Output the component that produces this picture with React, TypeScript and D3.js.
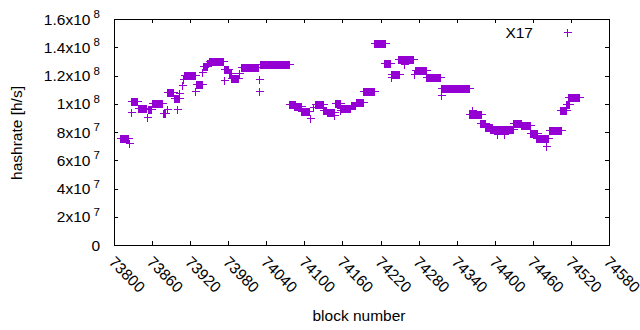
import React from "react";
import * as d3 from "d3";

// hashrate runs (one point per block, same value over the run), values in h/s
const runStart = [
  73809, 73827, 73838, 73853, 73860, 73877, 73884, 73895, 73910, 73929,
  73941, 73946, 73949, 73973, 73981, 73985, 74000, 74030, 74076, 74084,
  74095, 74117, 74129, 74135, 74148, 74156, 74174, 74181, 74193, 74210,
  74226, 74236, 74248, 74274, 74292, 74315, 74359, 74377, 74384, 74393,
  74403, 74428, 74442, 74455, 74465, 74486, 74503, 74512, 74516,
];
const runEnd = [
  73822, 73837, 73851, 73858, 73876, 73881, 73893, 73902, 73928, 73938,
  73946, 73948, 73971, 73980, 73985, 73996, 74027, 74076, 74085, 74094,
  74108, 74129, 74134, 74146, 74156, 74172, 74180, 74193, 74209, 74227,
  74235, 74249, 74271, 74291, 74314, 74359, 74378, 74385, 74395, 74403,
  74429, 74442, 74455, 74466, 74484, 74504, 74513, 74517, 74532,
];
const runValue = [
  75.5e6, 101.7e6, 97.3e6, 96.1e6, 100.5e6, 93.8e6, 108.3e6, 104.4e6, 120.7e6, 114.2e6,
  127.0e6, 129.0e6, 130.0e6, 124.6e6, 121.8e6, 118.4e6, 125.9e6, 128.0e6, 100.0e6, 98.4e6,
  94.8e6, 99.6e6, 95.6e6, 94.0e6, 100.2e6, 97.0e6, 99.0e6, 100.9e6, 109.0e6, 143.0e6,
  128.6e6, 121.0e6, 131.5e6, 123.7e6, 118.7e6, 111.0e6, 92.4e6, 86.2e6, 83.7e6, 81.9e6,
  82.3e6, 86.2e6, 84.7e6, 79.3e6, 76.1e6, 81.2e6, 95.6e6, 99.5e6, 104.6e6,
];

// single blocks off the runs
const spikeBlock = [
  73823, 73826, 73852, 73883, 73900, 73902, 73907, 73909, 73928, 73939,
  73973, 73997, 74029, 74029, 74109, 74114, 74146, 74156, 74236, 74257,
  74273, 74315, 74364, 74404, 74415, 74481,
];
const spikeValue = [
  72.0e6, 94.0e6, 90.8e6, 96.3e6, 96.1e6, 107.4e6, 113.3e6, 117.5e6, 109.2e6, 122.3e6,
  116.8e6, 122.0e6, 117.3e6, 109.0e6, 89.7e6, 97.9e6, 92.0e6, 95.6e6, 118.7e6, 128.0e6,
  121.1e6, 106.2e6, 95.6e6, 78.4e6, 78.4e6, 70.3e6,
];

const xTicks = [
  73800, 73860, 73920, 73980, 74040, 74100, 74160, 74220, 74280, 74340,
  74400, 74460, 74520, 74580,
];
const yTicks = [0, 2e7, 4e7, 6e7, 8e7, 1e8, 1.2e8, 1.4e8, 1.6e8];

const COLOR = "#9400d3";
const FONT = "'Liberation Sans', Arial, sans-serif";

const W = 640;
const H = 330;
const left = 114;
const right = 609;
const top = 19;
const bottom = 245;

function plus(cx: number, cy: number, r = 4) {
  const px = Math.round(cx) + 0.5;
  const py = Math.round(cy) + 0.5;
  return `M${px - r},${py}H${px + r}M${px},${py - r}V${py + r}`;
}

export default function App() {
  const x = d3.scaleLinear().domain([73800, 74580]).range([left, right]);
  const y = d3.scaleLinear().domain([0, 1.6e8]).range([bottom, top]);

  const points: { b: number; v: number }[] = [];
  runStart.forEach((s, i) => {
    d3.range(s, runEnd[i] + 1).forEach((b) => points.push({ b, v: runValue[i] }));
  });
  spikeBlock.forEach((b, i) => points.push({ b, v: spikeValue[i] }));

  const markerPath = points.map((p) => plus(x(p.b), y(p.v))).join("");

  const yLabel = (v: number) => {
    if (v === 0) return { m: "0", e: "" };
    const e = Math.floor(Math.log10(v) + 1e-9);
    const m = +(v / Math.pow(10, e)).toFixed(1);
    return { m: `${m}x10`, e: ` ${e}` };
  };

  return (
    <svg
      width={W}
      height={H}
      style={{ position: "absolute", left: 0, top: 0, background: "#fff" }}
      fontFamily={FONT}
      fontSize={15.5}
    >
      <rect x={0} y={0} width={W} height={H} fill="#fff" />

      {/* ticks */}
      <g stroke="#000" strokeWidth={1} shapeRendering="crispEdges">
        {xTicks.map((t) => {
          const px = Math.round(x(t)) + 0.5;
          return (
            <g key={t}>
              <line x1={px} x2={px} y1={bottom} y2={bottom - 4} />
              <line x1={px} x2={px} y1={top} y2={top + 4} />
            </g>
          );
        })}
        {yTicks.map((t) => {
          const py = Math.round(y(t)) + 0.5;
          return (
            <g key={t}>
              <line x1={left} x2={left + 4} y1={py} y2={py} />
              <line x1={right} x2={right - 4} y1={py} y2={py} />
            </g>
          );
        })}
      </g>

      {/* y tick labels */}
      {yTicks.map((t) => {
        const l = yLabel(t);
        return (
          <text key={t} x={100} y={y(t) + 5.5} textAnchor="end" fill="#000">
            {l.m}
            {l.e && (
              <tspan fontSize={11.5} dy={-6.5}>
                {l.e}
              </tspan>
            )}
          </text>
        );
      })}

      {/* x tick labels */}
      {xTicks.map((t) => (
        <text
          key={t}
          transform={`translate(${x(t) - 6},263) rotate(45)`}
          textAnchor="start"
          fill="#000"
        >
          {t}
        </text>
      ))}

      {/* axis titles */}
      <text x={359} y={321} textAnchor="middle" fill="#000">
        block number
      </text>
      <text
        transform={`translate(22,133) rotate(-90)`}
        textAnchor="middle"
        fill="#000"
      >
        hashrate [h/s]
      </text>

      {/* data */}
      <path d={markerPath} stroke={COLOR} strokeWidth={1} fill="none" shapeRendering="crispEdges" />

      {/* legend */}
      <text x={533} y={37.5} textAnchor="end" fill="#000">
        X17
      </text>
      <path d={plus(567, 32)} stroke={COLOR} strokeWidth={1} fill="none" shapeRendering="crispEdges" />

      {/* frame */}
      <rect
        x={left + 0.5}
        y={top + 0.5}
        width={right - left}
        height={bottom - top}
        fill="none"
        stroke="#000"
        strokeWidth={1}
        shapeRendering="crispEdges"
      />
    </svg>
  );
}
